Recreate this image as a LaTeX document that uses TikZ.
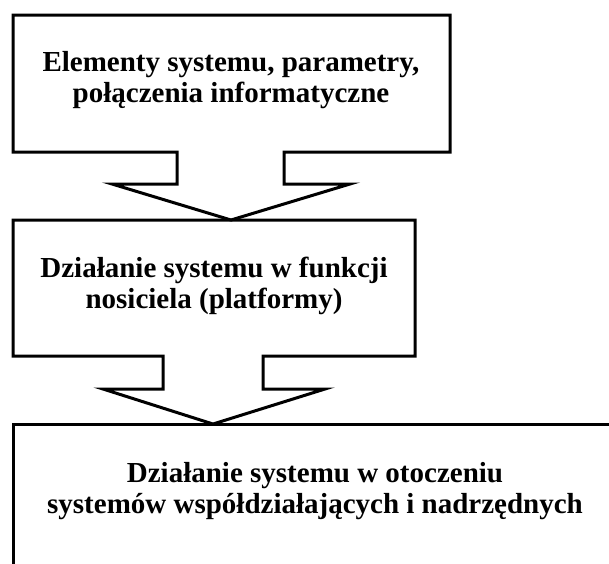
\documentclass[tikz,border=0pt]{standalone}
\usepackage{fontspec}
\setmainfont{Liberation Serif}
\begin{document}
\begin{tikzpicture}[x=1pt,y=-1pt,line width=3pt,line join=miter,
  opis/.style={font=\bfseries\fontsize{29}{31}\selectfont,align=center,anchor=base,inner sep=0pt}]
\useasboundingbox (0,0) rectangle (609,563);
\clip (0,0) rectangle (609,563);
\draw (13,570) -- (13,424) -- (640,424) -- (640,570);
\draw (13,15) -- (450,15) -- (450,152) -- (284,152) -- (284,184) -- (350,184) -- (231,220) -- (112,184) -- (177,184) -- (177,152) -- (13,152) -- cycle;
\draw (13,220) -- (415,220) -- (415,356) -- (263,356) -- (263,389) -- (325,389) -- (213,424) -- (103,389) -- (163,389) -- (163,356) -- (13,356) -- cycle;
\node[opis] (elementy) at (231,102) {Elementy systemu, parametry,\\połączenia informatyczne};
\node[opis] (nosiciel) at (214,308) {Działanie systemu w funkcji\\nosiciela (platformy)};
\node[opis] (otoczenie) at (315,513) {Działanie systemu w otoczeniu\\systemów współdziałających i nadrzędnych};
\end{tikzpicture}
\end{document}
